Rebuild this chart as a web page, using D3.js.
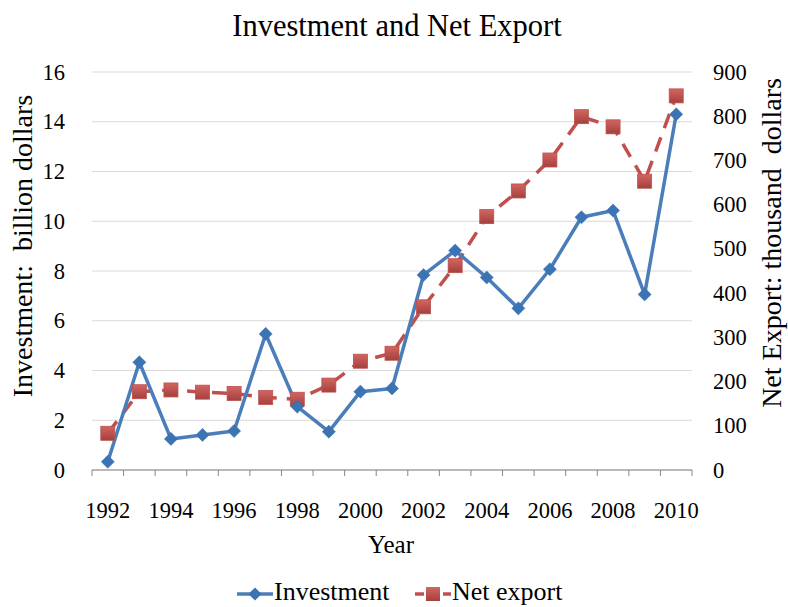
<!DOCTYPE html>
<html>
<head>
<meta charset="utf-8">
<script src="https://cdn.jsdelivr.net/npm/d3@7"></script>
<style>
  body { margin: 0; background: #fff; }
  text { font-family: "Liberation Serif", "DejaVu Serif", serif; fill: #000; }
</style>
</head>
<body>
<div id="chart"></div>
<script>
// data
var years = [1992, 1993, 1994, 1995, 1996, 1997, 1998, 1999, 2000, 2001,
             2002, 2003, 2004, 2005, 2006, 2007, 2008, 2009, 2010];
var investment = [0.33, 4.33, 1.25, 1.41, 1.57, 5.47, 2.55, 1.54, 3.15, 3.28,
                  7.84, 8.82, 7.74, 6.5, 8.07, 10.16, 10.43, 7.06, 14.3];
var netExport = [83, 177, 181, 176, 173, 164, 160, 192, 246, 264,
                 369, 462, 573, 631, 701, 799, 776, 653, 846];
var leftTicks = [0, 2, 4, 6, 8, 10, 12, 14, 16];
var rightTicks = [0, 100, 200, 300, 400, 500, 600, 700, 800, 900];
var yearLabels = [1992, 1994, 1996, 1998, 2000, 2002, 2004, 2006, 2008, 2010];

var W = 788, H = 607;
var margin = {top: 72, right: 96, bottom: 137, left: 92};
var width = W - margin.left - margin.right,
    height = H - margin.top - margin.bottom;

var svg = d3.select("#chart").append("svg")
    .attr("width", W)
    .attr("height", H);

var defs = svg.append("defs");
var grad = defs.append("linearGradient")
    .attr("id", "sqGrad")
    .attr("x1", 0).attr("y1", 0).attr("x2", 0).attr("y2", 1);
grad.append("stop").attr("offset", "0%").attr("stop-color", "#d36562");
grad.append("stop").attr("offset", "100%").attr("stop-color", "#a5403d");

var g = svg.append("g")
    .attr("transform", "translate(" + margin.left + "," + margin.top + ")");

var x = d3.scaleBand()
    .domain(years)
    .range([0, width]);
var yL = d3.scaleLinear().domain([0, 16]).range([height, 0]);
var yR = d3.scaleLinear().domain([0, 900]).range([height, 0]);

// gridlines
g.selectAll(".grid")
    .data(leftTicks)
    .enter().append("line")
    .attr("x1", 0).attr("x2", width)
    .attr("y1", function (d) { return yL(d); })
    .attr("y2", function (d) { return yL(d); })
    .attr("stroke", "#d9d9d9")
    .attr("stroke-width", 1);

// bottom axis: ticks at category boundaries
var bounds = years.map(function (d) { return x(d); }).concat([width]);
g.append("line")
    .attr("x1", 0).attr("x2", width)
    .attr("y1", height).attr("y2", height)
    .attr("stroke", "#868686").attr("stroke-width", 1);
g.selectAll(".xtick")
    .data(bounds)
    .enter().append("line")
    .attr("x1", function (d) { return d; })
    .attr("x2", function (d) { return d; })
    .attr("y1", height).attr("y2", height + 6)
    .attr("stroke", "#868686");

g.selectAll(".xlabel")
    .data(yearLabels)
    .enter().append("text")
    .attr("x", function (d) { return x(d) + x.bandwidth() / 2; })
    .attr("y", height + 48)
    .attr("text-anchor", "middle")
    .style("font-size", "22.5px")
    .text(function (d) { return d; });

// left labels
g.selectAll(".ylabel")
    .data(leftTicks)
    .enter().append("text")
    .attr("x", -27)
    .attr("y", function (d) { return yL(d) + 7.5; })
    .attr("text-anchor", "end")
    .style("font-size", "22.5px")
    .text(function (d) { return d; });

// right labels
g.selectAll(".y2label")
    .data(rightTicks)
    .enter().append("text")
    .attr("x", width + 21)
    .attr("y", function (d) { return yR(d) + 7.5; })
    .attr("text-anchor", "start")
    .style("font-size", "22.5px")
    .text(function (d) { return d; });

// lines
var lineInv = d3.line()
    .x(function (d, i) { return x(years[i]) + x.bandwidth() / 2; })
    .y(function (d) { return yL(d); });
var lineNet = d3.line()
    .x(function (d, i) { return x(years[i]) + x.bandwidth() / 2; })
    .y(function (d) { return yR(d); });

g.append("path")
    .datum(netExport)
    .attr("d", lineNet)
    .attr("fill", "none")
    .attr("stroke", "#c0504d")
    .attr("stroke-width", 3.5)
    .attr("stroke-dasharray", "15,10");

g.append("path")
    .datum(investment)
    .attr("d", lineInv)
    .attr("fill", "none")
    .attr("stroke", "#4a7ebb")
    .attr("stroke-width", 3.5)
    .attr("stroke-linejoin", "round");

var diamond = d3.symbol().type(d3.symbolDiamond2).size(110);

g.selectAll(".sq")
    .data(netExport)
    .enter().append("rect")
    .attr("x", function (d, i) { return x(years[i]) + x.bandwidth() / 2 - 7; })
    .attr("y", function (d) { return yR(d) - 7; })
    .attr("width", 14).attr("height", 14)
    .attr("fill", "url(#sqGrad)")
    .attr("stroke", "#b9504d").attr("stroke-width", 0.8);

g.selectAll(".dia")
    .data(investment)
    .enter().append("path")
    .attr("d", diamond)
    .attr("transform", function (d, i) {
        return "translate(" + (x(years[i]) + x.bandwidth() / 2) + "," + yL(d) + ")";
    })
    .attr("fill", "#3b73b3")
    .attr("stroke", "#3b73b3").attr("stroke-width", 0.5);

// titles
svg.append("text")
    .attr("x", 397).attr("y", 36)
    .attr("text-anchor", "middle")
    .style("font-size", "30.5px")
    .text("Investment and Net Export");

svg.append("text")
    .attr("x", 391).attr("y", 553)
    .attr("text-anchor", "middle")
    .style("font-size", "25px")
    .text("Year");

svg.append("text")
    .attr("transform", "translate(32,246) rotate(-90)")
    .attr("text-anchor", "middle")
    .style("font-size", "28px")
    .style("white-space", "pre")
    .text("Investment:  billion dollars");

svg.append("text")
    .attr("transform", "translate(781,243) rotate(-90)")
    .attr("text-anchor", "middle")
    .style("font-size", "28px")
    .style("white-space", "pre")
    .text("Net Export: thousand  dollars");

// legend
var leg = svg.append("g").attr("transform", "translate(0,594)");
leg.append("line")
    .attr("x1", 237).attr("x2", 273).attr("y1", 0).attr("y2", 0)
    .attr("stroke", "#4a7ebb").attr("stroke-width", 3.5);
leg.append("path")
    .attr("d", diamond)
    .attr("transform", "translate(255,0)")
    .attr("fill", "#3b73b3");
leg.append("text")
    .attr("x", 274).attr("y", 6)
    .style("font-size", "26px")
    .text("Investment");

leg.append("line")
    .attr("x1", 415).attr("x2", 451).attr("y1", 0).attr("y2", 0)
    .attr("stroke", "#c0504d").attr("stroke-width", 3.5)
    .attr("stroke-dasharray", "9,5");
leg.append("rect")
    .attr("x", 426).attr("y", -7).attr("width", 14).attr("height", 14)
    .attr("fill", "url(#sqGrad)");
leg.append("text")
    .attr("x", 452).attr("y", 6)
    .style("font-size", "26px")
    .text("Net export");
</script>
</body>
</html>
